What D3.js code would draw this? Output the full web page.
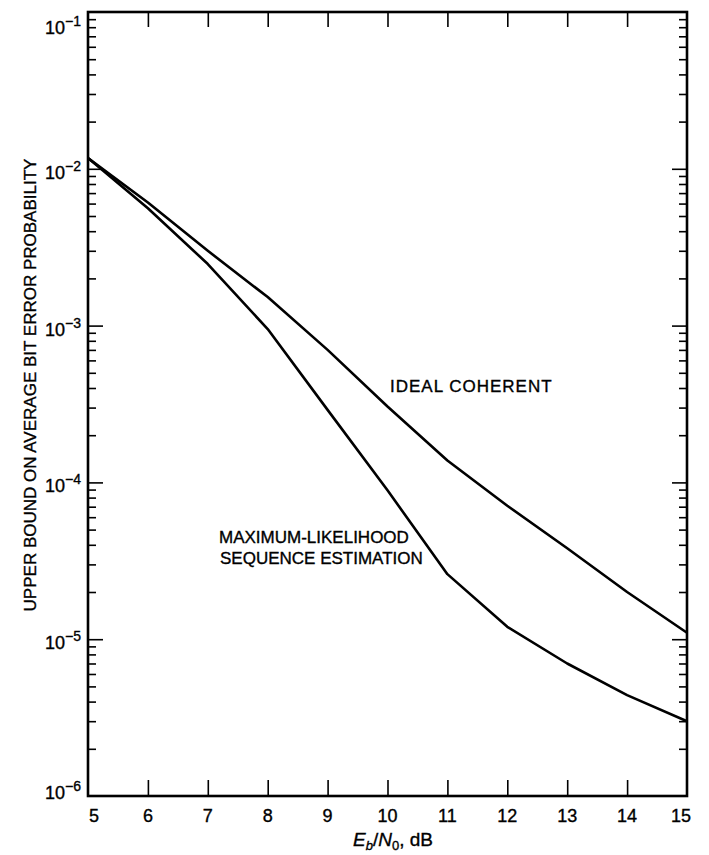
<!DOCTYPE html>
<html>
<head>
<meta charset="utf-8">
<script src="https://cdn.jsdelivr.net/npm/d3@7"></script>
<style>
body { margin: 0; background: #fff; }
svg { display: block; font-family: "Liberation Sans", Arial, sans-serif; }
svg text { fill: #000; stroke: #000; stroke-width: 0.35px; }
</style>
</head>
<body>
<svg id="chart" width="709" height="855"></svg>
<script>
// Upper bound on bit error probability vs Eb/N0 (dB)
const ebn0 = [5, 6, 7, 8, 9, 10, 11, 12, 13, 14, 15];
const idealCoherent = [1.17e-2, 6.1e-3, 3.0e-3, 1.52e-3, 7.0e-4, 3.05e-4, 1.38e-4, 7.1e-5, 3.8e-5, 2.0e-5, 1.1e-5];
const mlse = [1.17e-2, 5.6e-3, 2.47e-3, 9.5e-4, 2.9e-4, 8.9e-5, 2.6e-5, 1.2e-5, 7.0e-6, 4.4e-6, 3.0e-6];
const xTickValues = [5, 6, 7, 8, 9, 10, 11, 12, 13, 14, 15];
const decadeExponents = [-6, -5, -4, -3, -2, -1];
const yTitle = "UPPER BOUND ON AVERAGE BIT ERROR PROBABILITY";

const svg = d3.select("#chart");
const x = d3.scaleLinear().domain([5, 15]).range([88, 687]);
const y = d3.scaleLog().domain([1e-6, 1e-1]).range([796, 12]);

const majors = decadeExponents.map(e => Math.pow(10, e));
const inner = majors.slice(1, -1);
const minors = [];
decadeExponents.slice(0, -1).forEach(e => {
    for (let k = 2; k <= 9; k++) minors.push(k * Math.pow(10, e));
});

function tickAxis(axis, tx, ty) {
    const g = svg.append("g").attr("transform", "translate(" + tx + "," + ty + ")").call(axis);
    g.select(".domain").remove();
    g.selectAll("text").remove();
    g.selectAll("line").attr("stroke", "#000").attr("stroke-width", 1.6);
    return g;
}

// inward ticks on all four sides
tickAxis(d3.axisRight(y).tickValues(inner).tickSize(15), x(5), 0);
tickAxis(d3.axisRight(y).tickValues(minors).tickSize(8), x(5), 0);
tickAxis(d3.axisLeft(y).tickValues(inner).tickSize(15), x(15), 0);
tickAxis(d3.axisLeft(y).tickValues(minors).tickSize(8), x(15), 0);
tickAxis(d3.axisTop(x).tickValues(xTickValues.slice(1, -1)).tickSize(16), 0, y(1e-6));
tickAxis(d3.axisBottom(x).tickValues(xTickValues.slice(1, -1)).tickSize(15), 0, y(1e-1));

// frame
svg.append("rect")
    .attr("x", x(5)).attr("y", y(1e-1))
    .attr("width", x(15) - x(5)).attr("height", y(1e-6) - y(1e-1))
    .attr("fill", "none").attr("stroke", "#000").attr("stroke-width", 2.6);

// curves
const line = d3.line()
    .x((d, i) => x(ebn0[i]))
    .y(d => y(d));

[idealCoherent, mlse].forEach(s => {
    svg.append("path")
        .attr("d", line(s))
        .attr("fill", "none")
        .attr("stroke", "#000")
        .attr("stroke-width", 2.6)
        .attr("stroke-linejoin", "round");
});

// y tick labels 10^k
decadeExponents.forEach(e => {
    const dy = e === -1 ? 22 : e === -6 ? 3 : 10;
    const t = svg.append("text")
        .attr("x", 81)
        .attr("y", y(Math.pow(10, e)) + dy)
        .attr("text-anchor", "end");
    t.append("tspan").attr("font-size", 18).text("10");
    t.append("tspan").attr("font-size", 14).attr("dy", -8).text("\u2212" + (-e));
});

// x tick labels
svg.append("g").selectAll("text")
    .data(xTickValues)
    .join("text")
    .attr("x", d => x(d) + (d === 5 ? 6 : d === 15 ? -6 : 0))
    .attr("y", 822)
    .attr("text-anchor", "middle")
    .attr("font-size", 18)
    .text(d => d);

// axis titles
svg.append("text")
    .attr("transform", "translate(36,385) rotate(-90)")
    .attr("text-anchor", "middle")
    .attr("font-size", 17)
    .text(yTitle);

const xt = svg.append("text")
    .attr("x", 393).attr("y", 846)
    .attr("text-anchor", "middle")
    .attr("font-size", 19);
xt.append("tspan").attr("font-style", "italic").text("E");
xt.append("tspan").attr("font-size", 13).attr("font-style", "italic").attr("dy", 4).text("b");
xt.append("tspan").attr("dy", -4).text("/");
xt.append("tspan").attr("font-style", "italic").text("N");
xt.append("tspan").attr("font-size", 13).attr("dy", 4).text("0");
xt.append("tspan").attr("dy", -4).text(", dB");

// curve labels
svg.append("text")
    .attr("x", 390).attr("y", 392)
    .attr("font-size", 17)
    .attr("letter-spacing", 1)
    .text("IDEAL COHERENT");

const ml = svg.append("text").attr("font-size", 17);
ml.append("tspan").attr("x", 219).attr("y", 543).text("MAXIMUM-LIKELIHOOD");
ml.append("tspan").attr("x", 220).attr("y", 564).text("SEQUENCE ESTIMATION");
</script>
</body>
</html>
